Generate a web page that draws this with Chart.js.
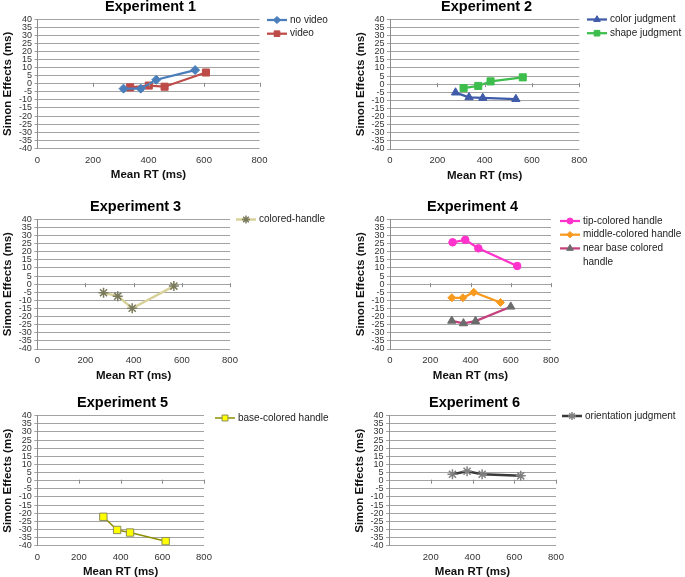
<!DOCTYPE html>
<html>
<head>
<meta charset="utf-8">
<script src="https://cdn.jsdelivr.net/npm/chart.js@4.4.1/dist/chart.umd.min.js"></script>
<style>
  html, body { margin: 0; padding: 0; background: #fff; }
  #wrap { position: relative; width: 685px; height: 577px; overflow: hidden; }
  #wrap canvas { position: absolute; left: 0; top: 0; }
</style>
</head>
<body>
<div id="wrap"></div>
<script>
// ---------- DATA ----------
const panelTitles = ['Experiment 1', 'Experiment 2', 'Experiment 3', 'Experiment 4', 'Experiment 5', 'Experiment 6'];
const xTickValues = [0, 200, 400, 600, 800];
const yTickValues = [-40, -35, -30, -25, -20, -15, -10, -5, 0, 5, 10, 15, 20, 25, 30, 35, 40];
const xAxisTitle = 'Mean RT (ms)';
const yAxisTitle = 'Simon Effects (ms)';

// Experiment 1
const exp1NoVideoName = 'no video';
const exp1NoVideoRT = [310, 372, 428, 568];
const exp1NoVideoSE = [-3, -3, 2.5, 8.5];
const exp1VideoName = 'video';
const exp1VideoRT = [334, 401, 458, 607];
const exp1VideoSE = [-2.2, -1.1, -1.8, 7];

// Experiment 2
const exp2ColorName = 'color judgment';
const exp2ColorRT = [277, 334, 392, 532];
const exp2ColorSE = [-5.2, -8.1, -8.5, -9.2];
const exp2ShapeName = 'shape judgment';
const exp2ShapeRT = [311, 373, 425, 561];
const exp2ShapeSE = [-2.4, -1.1, 1.7, 4.2];

// Experiment 3
const exp3Name = 'colored-handle';
const exp3RT = [275, 334, 394, 567];
const exp3SE = [-5.3, -7.4, -14.9, -1.2];

// Experiment 4
const exp4TipName = 'tip-colored handle';
const exp4TipRT = [311, 374, 439, 632];
const exp4TipSE = [25.8, 27.3, 22.1, 11.2];
const exp4MidName = 'middle-colored handle';
const exp4MidRT = [307, 362, 416, 549];
const exp4MidSE = [-8.4, -8.4, -5.0, -11.3];
const exp4NearName = 'near base colored handle';
const exp4NearRT = [307, 365, 425, 600];
const exp4NearSE = [-22.6, -24.2, -22.8, -13.9];

// Experiment 5
const exp5Name = 'base-colored handle';
const exp5RT = [317, 383, 445, 616];
const exp5SE = [-22.2, -30.3, -31.9, -37.2];

// Experiment 6
const exp6Name = 'orientation judgment';
const exp6RT = [304, 374, 446, 631];
const exp6SE = [4.0, 5.8, 4.0, 3.0];

// ---------- HELPERS ----------
const FONT = "'Liberation Sans', Arial, sans-serif";
const W = 685, H = 577;

function pts(xs, ys) { return xs.map((x, i) => ({ x: x, y: ys[i] })); }

function series(label, xs, ys, st) {
  return {
    label: label,
    data: pts(xs, ys),
    borderColor: st.line,
    borderWidth: st.lw || 2.25,
    pointStyle: st.marker,
    pointRadius: st.r,
    pointHoverRadius: st.r,
    pointBackgroundColor: st.fill,
    pointBorderColor: st.stroke,
    pointBorderWidth: st.mbw || 1,
    tension: 0,
    fill: false
  };
}

function drawMarker(ctx, style, r, x, y, rot) {
  if (Chart.helpers && Chart.helpers.drawPoint) {
    Chart.helpers.drawPoint(ctx, { pointStyle: style, radius: r, rotation: rot || 0, borderWidth: ctx.lineWidth }, x, y);
  }
}

const panelPlugin = {
  id: 'panelDeco',
  afterDraw(chart) {
    const o = chart.options.plugins.panelDeco;
    if (!o) return;
    const ctx = chart.ctx;
    const ca = chart.chartArea;
    const xs = chart.scales.x, ys = chart.scales.y;
    ctx.save();
    // small tick marks on the zero line
    const y0 = ys.getPixelForValue(0);
    ctx.strokeStyle = '#8a8a8a';
    ctx.lineWidth = 1;
    xs.ticks.forEach(t => {
      if (t.value === 0) return;
      const px = Math.round(xs.getPixelForValue(t.value)) + 0.5;
      ctx.beginPath();
      ctx.moveTo(px, y0 - 1);
      ctx.lineTo(px, y0 + 3);
      ctx.stroke();
    });
    // title
    ctx.fillStyle = '#000';
    ctx.font = 'bold 14.5px ' + FONT;
    ctx.textAlign = 'center';
    ctx.textBaseline = 'middle';
    ctx.fillText(o.title, (ca.left + ca.right) / 2 + 2, ca.top - 12.5);
    // legend
    const lg = o.legend;
    let row = 0;
    ctx.font = '10px ' + FONT;
    ctx.textAlign = 'left';
    chart.data.datasets.forEach(ds => {
      const y = lg.y + row * lg.rowH;
      ctx.strokeStyle = ds.borderColor;
      ctx.lineWidth = ds.borderWidth;
      ctx.beginPath();
      ctx.moveTo(lg.x, y);
      ctx.lineTo(lg.x + lg.len, y);
      ctx.stroke();
      ctx.fillStyle = ds.pointBackgroundColor;
      ctx.strokeStyle = ds.pointBorderColor;
      ctx.lineWidth = ds.pointBorderWidth;
      drawMarker(ctx, ds.pointStyle, ds.pointRadius * 0.8, lg.x + lg.len / 2, y, 0);
      // wrapped text
      ctx.fillStyle = '#222';
      const tx = lg.x + lg.len + 3;
      const maxW = W - tx - 1;
      const words = ds.label.split(' ');
      let line = '';
      const lines = [];
      words.forEach(w => {
        const test = line ? line + ' ' + w : w;
        if (ctx.measureText(test).width > maxW && line) { lines.push(line); line = w; }
        else line = test;
      });
      lines.push(line);
      lines.forEach((ln, i) => ctx.fillText(ln, tx, y + i * lg.rowH));
      row += lines.length;
    });
    ctx.restore();
  }
};

function makePanel(idx, datasets, geo, extra) {
  const cv = document.createElement('canvas');
  cv.width = W; cv.height = H;
  cv.style.width = W + 'px'; cv.style.height = H + 'px';
  document.getElementById('wrap').appendChild(cv);
  const yAxisW = 36.4;
  const xAxisH = 33.5;
  const hideZero = extra && extra.hideZero;
  new Chart(cv, {
    type: 'line',
    data: { datasets: datasets },
    plugins: [panelPlugin],
    options: {
      responsive: false,
      animation: false,
      devicePixelRatio: 1,
      events: [],
      layout: {
        padding: {
          left: geo.left - yAxisW,
          top: geo.top,
          right: W - geo.right,
          bottom: H - geo.bottom - xAxisH
        }
      },
      plugins: {
        legend: { display: false },
        title: { display: false },
        tooltip: { enabled: false },
        panelDeco: {
          title: panelTitles[idx],
          legend: { x: geo.lx, y: geo.ly, len: 20, rowH: 13.7 }
        }
      },
      scales: {
        x: {
          type: 'linear',
          min: 0, max: 800,
          afterBuildTicks: s => { s.ticks = xTickValues.map(v => ({ value: v })); },
          afterFit: s => { s.height = xAxisH; },
          grid: { display: false },
          border: { display: false },
          ticks: {
            padding: -2,
            maxRotation: 0,
            autoSkip: false,
            color: '#333',
            font: { family: FONT, size: 9.5 },
            callback: v => (hideZero && v === 0) ? '' : String(v)
          },
          title: {
            display: true,
            text: xAxisTitle,
            color: '#111',
            padding: 0,
            font: { family: FONT, size: 11.5, weight: 'bold' }
          }
        },
        y: {
          type: 'linear',
          min: -40, max: 40,
          afterBuildTicks: s => { s.ticks = yTickValues.map(v => ({ value: v })); },
          afterFit: s => { s.width = yAxisW; },
          grid: { color: '#a3a3a3', lineWidth: 1, drawTicks: true, tickLength: 3 },
          border: { display: true, color: '#8c8c8c', width: 1 },
          ticks: {
            padding: 2.5,
            autoSkip: false,
            color: '#333',
            font: { family: FONT, size: 9, lineHeight: 1 }
          },
          title: {
            display: true,
            text: yAxisTitle,
            color: '#111',
            padding: 0,
            font: { family: FONT, size: 11.5, weight: 'bold' }
          }
        }
      }
    }
  });
}

// ---------- PANELS ----------
makePanel(0, [
  series(exp1NoVideoName, exp1NoVideoRT, exp1NoVideoSE, { line: '#4A7EBB', marker: 'rectRot', r: 4.5, fill: '#4A7EBB', stroke: '#4A7EBB' }),
  series(exp1VideoName, exp1VideoRT, exp1VideoSE, { line: '#BE4B48', marker: 'rect', r: 5, fill: '#BE4B48', stroke: '#BE4B48' })
], { left: 37.5, right: 259.5, top: 19.3, bottom: 148.3, lx: 267, ly: 20 });

makePanel(1, [
  series(exp2ColorName, exp2ColorRT, exp2ColorSE, { line: '#3F5BA9', marker: 'triangle', r: 4.8, fill: '#3F5BA9', stroke: '#3F5BA9' }),
  series(exp2ShapeName, exp2ShapeRT, exp2ShapeSE, { line: '#3DBE4C', marker: 'rect', r: 5, fill: '#3DBE4C', stroke: '#3DBE4C' })
], { left: 390, right: 579.3, top: 19.3, bottom: 149, lx: 587, ly: 19.5 });

makePanel(2, [
  series(exp3Name, exp3RT, exp3SE, { line: '#D8D29A', marker: 'star', r: 5, fill: '#D8D29A', stroke: '#7A7A5C', mbw: 1.5, lw: 2.5 })
], { left: 37.3, right: 230, top: 219.3, bottom: 349, lx: 236, ly: 219.5 });

makePanel(3, [
  series(exp4TipName, exp4TipRT, exp4TipSE, { line: '#FF33CC', marker: 'circle', r: 3.8, fill: '#FF33CC', stroke: '#FF33CC' }),
  series(exp4MidName, exp4MidRT, exp4MidSE, { line: '#F79A1E', marker: 'rectRot', r: 4, fill: '#F79A1E', stroke: '#F79A1E' }),
  series(exp4NearName, exp4NearRT, exp4NearSE, { line: '#C4417E', marker: 'triangle', r: 4.8, fill: '#6B6B6B', stroke: '#6B6B6B' })
], { left: 390, right: 551, top: 219.3, bottom: 349, lx: 560, ly: 221 });

makePanel(4, [
  series(exp5Name, exp5RT, exp5SE, { line: '#8F8F00', marker: 'rect', r: 5.2, fill: '#FFFF00', stroke: '#8C8C5A', mbw: 1, lw: 1.5 })
], { left: 37.3, right: 204, top: 415.7, bottom: 545.7, lx: 215, ly: 418 });

makePanel(5, [
  series(exp6Name, exp6RT, exp6SE, { line: '#3A3A3A', marker: 'star', r: 5, fill: '#808080', stroke: '#808080', mbw: 1.5, lw: 2.5 })
], { left: 389, right: 556, top: 415.7, bottom: 545.7, lx: 562, ly: 416 }, { hideZero: true });
</script>
</body>
</html>
